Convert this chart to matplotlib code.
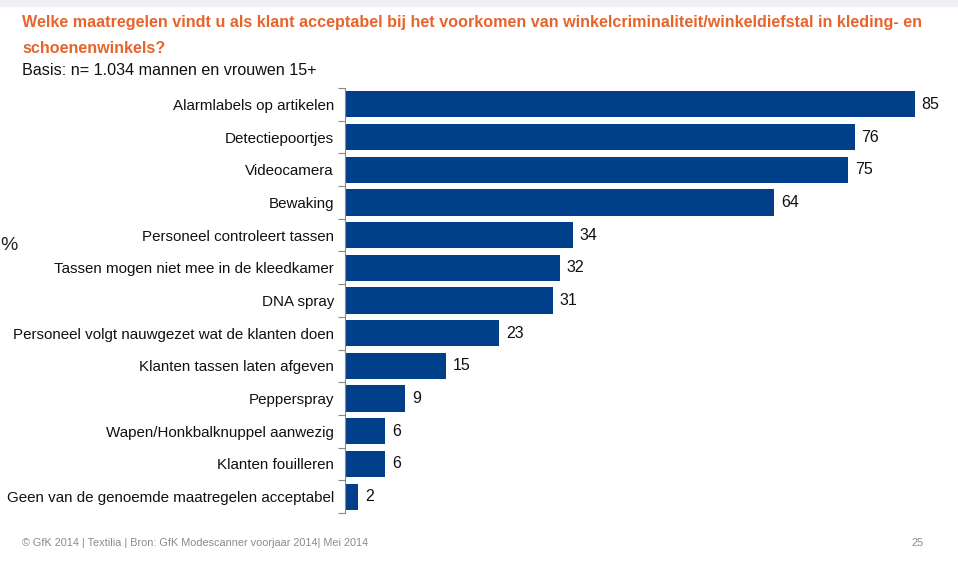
import matplotlib.pyplot as plt

plt.rcParams['font.family'] = ['Liberation Sans', 'DejaVu Sans']

categories = [
    'Alarmlabels op artikelen',
    'Detectiepoortjes',
    'Videocamera',
    'Bewaking',
    'Personeel controleert tassen',
    'Tassen mogen niet mee in de kleedkamer',
    'DNA spray',
    'Personeel volgt nauwgezet wat de klanten doen',
    'Klanten tassen laten afgeven',
    'Pepperspray',
    'Wapen/Honkbalknuppel aanwezig',
    'Klanten fouilleren',
    'Geen van de genoemde maatregelen acceptabel',
]
values = [85, 76, 75, 64, 34, 32, 31, 23, 15, 9, 6, 6, 2]

title_lines = ['Welke maatregelen vindt u als klant acceptabel bij het voorkomen van '
               'winkelcriminaliteit/winkeldiefstal in kleding- en',
               'schoenenwinkels?']
subtitle = 'Basis: n= 1.034 mannen en vrouwen 15+'
footer = '© GfK 2014 | Textilia | Bron: GfK Modescanner voorjaar 2014| Mei 2014'

W, H = 958, 562
fig = plt.figure(figsize=(W / 100, H / 100), dpi=100)
fig.patch.set_facecolor('white')

# axes: left spine at x=345, bars from y~88 to ~512
x0, x1 = 345, 958
y_top, y_bot = 88, 513
ax = fig.add_axes([x0 / W, 1 - y_bot / H, (x1 - x0) / W, (y_bot - y_top) / H])
n = len(categories)
pos = list(range(n))
ax.barh(pos, values, height=0.8, color='#00408A')
ax.set_ylim(n - 0.5, -0.5)
ax.set_xlim(0, (x1 - x0) / 6.706)

for p, v in zip(pos, values):
    ax.text(v + 1.0, p, str(v), va='center', ha='left', fontsize=11.5, color='#111111')

ax.set_yticks([p + 0.5 for p in range(-1, n)], minor=False)
ax.set_yticklabels([])
ax.set_yticks(pos, minor=True)
ax.set_yticklabels(categories, minor=True, fontsize=10.9, color='#111111')
ax.tick_params(axis='y', which='minor', length=0, pad=8)
ax.tick_params(axis='y', which='major', length=5, color='#888888', direction='out')
ax.set_xticks([])
for s in ['top', 'right', 'bottom']:
    ax.spines[s].set_visible(False)
ax.spines['left'].set_color('#888888')
ax.spines['left'].set_linewidth(0.8)
ax.set_facecolor('none')

# top strip
fig.patches.append(plt.Rectangle((0, 1 - 6 / H), 1, 6 / H, transform=fig.transFigure,
                                 color='#EEF0F3', zorder=0))

fig.text(22 / W, 1 - 27 / H, title_lines[0], ha='left', va='baseline', fontsize=11.6,
         fontweight='bold', color='#E5652D')
fig.text(22 / W, 1 - 53 / H, title_lines[1], ha='left', va='baseline', fontsize=11.6,
         fontweight='bold', color='#E5652D')
fig.text(22 / W, 1 - 75 / H, subtitle, ha='left', va='baseline', fontsize=11.6,
         color='#111111')
fig.text(0, 1 - 245 / H, '%', ha='left', va='center', fontsize=14, color='#222222')
fig.text(22 / W, 1 - 543 / H, footer, ha='left', va='center', fontsize=7.8,
         color='#8A8A8A')
fig.text(924 / W, 1 - 543 / H, '25', ha='right', va='center', fontsize=7.8,
         color='#8A8A8A')

fig.savefig('out.png', dpi=100)
